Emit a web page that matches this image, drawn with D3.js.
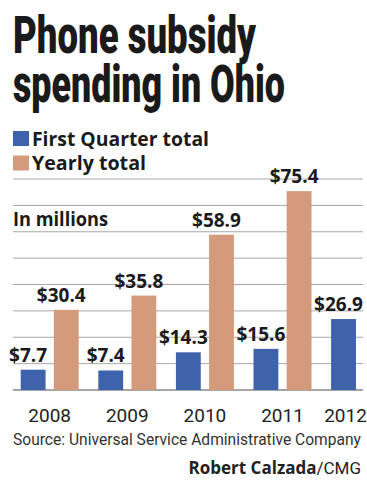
<!DOCTYPE html>
<html>
<head>
<meta charset="utf-8">
<script src="https://cdn.jsdelivr.net/npm/d3@7"></script>
<style>
  body { margin: 0; background: #fff; }
  text { font-family: "Open Sans", sans-serif; }
</style>
</head>
<body>
<script>
var years = ["2008", "2009", "2010", "2011", "2012"];
var series = ["First Quarter total", "Yearly total"];
var firstQuarter = [7.7, 7.4, 14.3, 15.6, 26.9];
var yearly = [30.4, 35.8, 58.9, 75.4, null];
var gridTicks = [0, 10, 20, 30, 40, 50, 60, 70, 80];
var colors = ["#3f62ad", "#d49a7c"];

var w = 367, h = 480;
var svg = d3.select("body").append("svg")
  .attr("width", w).attr("height", h);

// title
var title = svg.append("g");
[["Phone subsidy", 53, 243], ["spending in Ohio", 102, 272]].forEach(function(t) {
  title.append("text")
    .attr("x", 13).attr("y", t[1])
    .attr("textLength", t[2]).attr("lengthAdjust", "spacingAndGlyphs")
    .style("font-family", "Roboto, sans-serif")
    .style("font-weight", 900)
    .style("font-size", "51px")
    .attr("fill", "#1a1a1a")
    .text(t[0]);
});

// legend
var legend = svg.append("g");
series.forEach(function(s, i) {
  var y0 = 131 + i * 24.5;
  legend.append("rect")
    .attr("x", 13).attr("y", y0).attr("width", 16).attr("height", 15)
    .attr("fill", colors[i]);
  legend.append("text")
    .attr("x", 32).attr("y", y0 + 14.5)
    .attr("textLength", i === 0 ? 177 : 114).attr("lengthAdjust", "spacingAndGlyphs")
    .style("font-weight", 700).style("font-size", "20px")
    .attr("fill", "#1a1a1a")
    .text(s);
});

// scales
var y = d3.scaleLinear().domain([0, 80]).range([390, 179]);
var x0 = d3.scaleBand().domain(years).range([20.7, 20.7 + 5 * 77.6]);
var x1 = d3.scaleBand().domain(series).range([0, 58]).paddingInner(0.25);

// gridlines
svg.append("g").selectAll("line")
  .data(gridTicks)
  .enter().append("line")
  .attr("x1", 13).attr("x2", 363)
  .attr("y1", function(d) { return y(d); })
  .attr("y2", function(d) { return y(d); })
  .attr("stroke", function(d) { return d === 0 ? "#888" : "#a8a8a8"; })
  .attr("stroke-width", function(d) { return d === 0 ? 1.5 : 1; });

svg.append("text")
  .attr("x", 13).attr("y", 226)
  .attr("textLength", 95).attr("lengthAdjust", "spacingAndGlyphs")
  .style("font-weight", 700).style("font-size", "20px")
  .attr("fill", "#1a1a1a")
  .text("In millions");

// bars
var rows = [];
years.forEach(function(yr, i) {
  rows.push({year: yr, s: series[0], v: firstQuarter[i]});
  if (yearly[i] != null) rows.push({year: yr, s: series[1], v: yearly[i]});
});

svg.append("g").selectAll("rect")
  .data(rows)
  .enter().append("rect")
  .attr("x", function(d) { return x0(d.year) + x1(d.s); })
  .attr("y", function(d) { return y(d.v); })
  .attr("width", x1.bandwidth())
  .attr("height", function(d) { return y(0) - y(d.v); })
  .attr("fill", function(d) { return colors[series.indexOf(d.s)]; });

svg.append("g").selectAll("text")
  .data(rows)
  .enter().append("text")
  .attr("x", function(d) { return x0(d.year) + x1(d.s) + x1.bandwidth() / 2 - 5; })
  .attr("y", function(d) { return y(d.v) - 8; })
  .attr("text-anchor", "middle")
  .style("font-weight", 700).style("font-size", "19px")
  .attr("fill", "#1a1a1a")
  .text(function(d) { return "$" + d.v.toFixed(1); });

// year axis
svg.append("g").selectAll("text")
  .data(years)
  .enter().append("text")
  .attr("x", function(d, i) {
    return yearly[i] != null ? x0(d) + 29 : x0(d) + x1(series[0]) + x1.bandwidth() / 2 + 2;
  })
  .attr("y", 421.5)
  .attr("text-anchor", "middle")
  .style("font-family", "Roboto, sans-serif")
  .style("font-size", "19px")
  .attr("fill", "#222")
  .text(function(d) { return d; });

svg.append("text")
  .attr("x", 13).attr("y", 444.5)
  .attr("textLength", 348).attr("lengthAdjust", "spacingAndGlyphs")
  .style("font-family", "Roboto, sans-serif")
  .style("font-size", "17px")
  .attr("fill", "#333")
  .text("Source: Universal Service Administrative Company");

var credit = svg.append("text")
  .attr("x", 361).attr("y", 474)
  .attr("text-anchor", "end")
  .style("font-size", "17px")
  .attr("fill", "#222");
credit.append("tspan").style("font-weight", 700).text("Robert Calzada");
credit.append("tspan").style("font-family", "Roboto, sans-serif").text("/CMG");
</script>
</body>
</html>
